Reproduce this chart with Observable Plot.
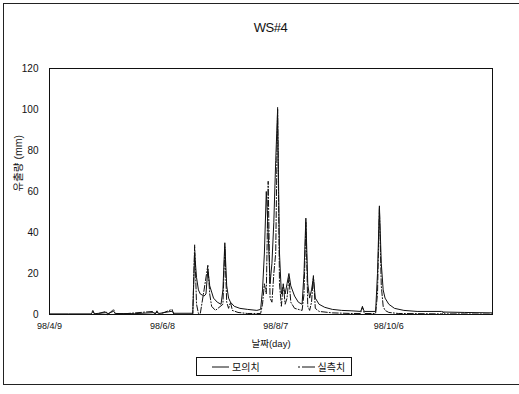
<!DOCTYPE html>
<html>
<head>
<meta charset="utf-8">
<script src="https://cdn.jsdelivr.net/npm/d3@7"></script>
<script src="https://cdn.jsdelivr.net/npm/@observablehq/plot@0.6"></script>
<style>
  html, body { margin: 0; padding: 0; background: #fff; }
  body { font-family: "Liberation Sans", "Noto Sans CJK KR", sans-serif; color: #111; }
  #wrap { position: relative; width: 519px; height: 394px; overflow: hidden; }
  #border { position: absolute; left: 3px; top: 3px; width: 540px; height: 380px;
            border-left: 1px solid #222; border-top: 1px solid #222; border-bottom: 1px solid #222; }
  #title { position: relative; width: 519px; height: 50px; box-sizing: border-box; padding-left: 22px;
           text-align: center; font-size: 13px; line-height: 56px; letter-spacing: -0.5px; }
  #chart svg { display: block; }
  #legend { position: relative; margin-left: 196px; margin-top: 7px; width: 154px; height: 17px;
            border: 1px solid #111; font-size: 10px; display: flex; align-items: center; }
  #legend span.item { display: inline-flex; align-items: center; }
  #legend svg { margin-right: 3px; }
</style>
</head>
<body>
<div id="wrap">
  <div id="border"></div>
  <div id="title">WS#4</div>
  <div id="chart"></div>
  <div id="legend">
    <span class="item" style="margin-left:15px"><svg width="17" height="6"><line x1="0" y1="3" x2="17" y2="3" stroke="#111" stroke-width="1"/></svg>모의치</span>
    <span class="item" style="margin-left:38px"><svg width="17" height="6"><line x1="0" y1="3" x2="17" y2="3" stroke="#111" stroke-width="1" stroke-dasharray="2,2,13,0"/></svg>실측치</span>
  </div>
</div>
<script>
// Start date of the series: 1998-04-09 (day 0)
const startYear = 1998, startMonth = 3, startDay = 9;
const endDay = 235;

// Simulated (모의치) — day offset and runoff (mm)
const simDays = [0, 10, 22, 23, 24, 30, 31, 34, 35, 45, 55, 56, 57, 58, 65, 66, 76, 77, 78, 79, 80, 82, 83, 84, 85, 87, 89, 91, 92, 93, 94, 95, 96, 98, 101, 105, 110, 112, 113, 114, 115, 116, 117, 118, 119, 120, 121, 122, 123, 124, 125, 126, 127, 128, 130, 132, 134, 135, 136, 137, 138, 139, 140, 141, 143, 146, 150, 155, 160, 165, 166, 167, 173, 174, 175, 176, 177, 178, 180, 183, 188, 195, 208, 209, 220, 235];
const simValues = [0.3, 0.3, 0.3, 1.2, 0.4, 0.9, 0.4, 1.6, 0.5, 0.4, 0.9, 0.5, 1.1, 0.5, 1.6, 0.6, 0.6, 30, 18, 12, 10, 9, 10, 22, 14, 8, 6, 5, 12, 35, 14, 8, 6, 4, 3, 2.5, 2, 2.5, 12, 30, 60, 40, 15, 25, 45, 75, 100, 30, 10, 14, 10, 15, 20, 14, 9, 6, 5, 20, 47, 15, 8, 12, 18, 8, 5, 3.5, 2.5, 2, 1.8, 1.5, 3.5, 1.5, 1.5, 20, 53, 25, 12, 8, 5, 3, 2, 1.5, 1.5, 1.2, 1, 0.8];

// Observed (실측치) — day offset and runoff (mm)
const obsDays = [0, 22, 23, 24, 30, 31, 34, 35, 55, 56, 57, 58, 65, 66, 76, 77, 78, 79, 80, 82, 84, 85, 86, 88, 92, 93, 94, 95, 96, 97, 100, 105, 112, 113, 114, 115, 116, 117, 118, 119, 120, 121, 122, 123, 124, 125, 126, 127, 128, 130, 134, 135, 136, 137, 138, 139, 140, 141, 143, 150, 160, 165, 166, 167, 173, 174, 175, 176, 177, 178, 180, 185, 208, 209, 210, 235];
const obsValues = [0, 0, 2, 0, 1.5, 0, 2.5, 0, 1.5, 0, 1.8, 0, 2.5, 0, 0, 34, 5, 0.5, 0.5, 12, 24, 10, 4, 2, 5, 33, 6, 3, 6, 2, 1, 0.5, 0.5, 5, 15, 10, 65, 8, 6, 20, 30, 101, 15, 4, 15, 5, 8, 18, 6, 3, 2, 10, 45, 4, 2, 6, 19, 3, 1.5, 0.8, 0.5, 0.5, 4, 0.5, 0.5, 10, 52, 14, 4, 2, 1, 0.5, 0.3, 1, 0.3, 0.2];

// Axis ticks
const tickDays = [0, 60, 120, 180];
const tickLabels = ["98/4/9", "98/6/8", "98/8/7", "98/10/6"];
const yTicks = [0, 20, 40, 60, 80, 100, 120];
const yTickLabels = ["0", "20", "40", "60", "80", "100", "120"];

const toDate = d => new Date(Date.UTC(startYear, startMonth, startDay + d));
const sim = simDays.map((d, i) => ({date: toDate(d), v: simValues[i]}));
const obs = obsDays.map((d, i) => ({date: toDate(d), v: obsValues[i]}));
const tickDates = tickDays.map(toDate);

const chart = Plot.plot({
  width: 519,
  height: 300,
  marginTop: 18,
  marginBottom: 36,
  marginLeft: 49,
  marginRight: 27,
  style: {fontFamily: "'Liberation Sans', 'Noto Sans CJK KR', sans-serif", fontSize: "9px", color: "#111", background: "transparent"},
  x: {type: "utc", domain: [toDate(0), toDate(endDay)]},
  y: {domain: [0, 120]},
  marks: [
    Plot.frame({stroke: "#111"}),
    Plot.axisY({ticks: yTicks, tickSize: 0, tickPadding: 11, label: null, fontSize: 10,
      tickFormat: d => yTickLabels[yTicks.indexOf(d)]}),
    Plot.axisX({ticks: tickDates, tickSize: 0, tickPadding: 8, label: null,
      tickFormat: d => tickLabels[tickDates.findIndex(t => +t === +d)]}),
    Plot.text(["유출량 (mm)"], {frameAnchor: "left", dx: -31, rotate: -90, fontSize: 10.5, fill: "#111"}),
    Plot.text(["날짜(day)"], {frameAnchor: "bottom", dy: 32, fontSize: 9.5, fill: "#111"}),
    Plot.line(sim, {x: "date", y: "v", stroke: "#111", strokeWidth: 1}),
    Plot.line(obs, {x: "date", y: "v", stroke: "#111", strokeWidth: 1, strokeDasharray: "6,2,1,2"})
  ]
});
document.getElementById("chart").appendChild(chart);
</script>
</body>
</html>
